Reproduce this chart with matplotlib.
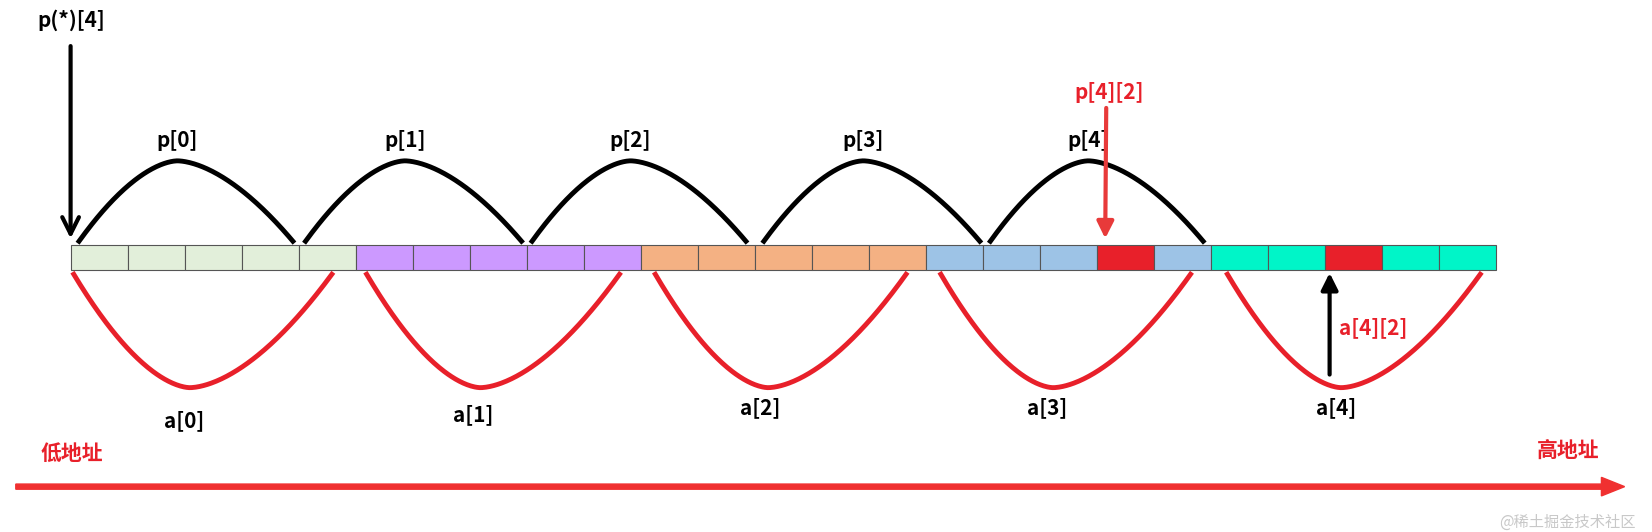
import numpy as np
import matplotlib.pyplot as plt
from matplotlib.patches import Rectangle, FancyArrow

plt.rcParams['font.family'] = ['Noto Sans CJK SC', 'DejaVu Sans']

group_colors = ['#E2EFDA', '#CC99FF', '#F4B183', '#9DC3E6', '#00F5C8']
red_cells = [18, 22]
p_labels = ['p[0]', 'p[1]', 'p[2]', 'p[3]', 'p[4]']
a_labels = ['a[0]', 'a[1]', 'a[2]', 'a[3]', 'a[4]']
p_arc_start = [75, 290, 505, 725, 940]
p_arc_end = [278, 495, 708, 930, 1142]
a_arc_start = [70, 348, 622, 893, 1165]
a_arc_end = [315, 588, 860, 1130, 1405]
a_label_x = [175, 449, 722, 994, 1268]
a_label_y = [408, 402, 395, 395, 395]

W, H = 1568, 516
fig = plt.figure(figsize=(16.52, 5.32), dpi=100)
ax = fig.add_axes([0, 0, 1, 1])
ax.set_xlim(0, W); ax.set_ylim(H, 0); ax.axis('off')

x0, cw, y0, ch = 67, (1420 - 67) / 25, 238, 24
for i in range(25):
    c = '#E8202A' if i in red_cells else group_colors[i // 5]
    ax.add_patch(Rectangle((x0 + i * cw, y0), cw, ch, facecolor=c, edgecolor='#555555', lw=0.8))

t = np.linspace(0, 1, 200)

def bump(t, peak):
    # asymmetric rounded-V shape
    u = np.where(t < peak, t / peak, (1 - t) / (1 - peak))
    return 1 - (1 - u) ** 1.7

for k in range(5):
    xs = p_arc_start[k] + (p_arc_end[k] - p_arc_start[k]) * t
    ys = 234 - 78 * bump(t, 0.46)
    ax.plot(xs, ys, color='black', lw=3.5)
    ax.text((p_arc_start[k] + p_arc_end[k]) / 2 - 8, 136, p_labels[k], ha='center', va='center',
            fontsize=15, fontweight='bold')
    xs = a_arc_start[k] + (a_arc_end[k] - a_arc_start[k]) * t
    ys = 266 + 110 * bump(t, 0.45)
    ax.plot(xs, ys, color='#E8202A', lw=3.5)
    ax.text(a_label_x[k], a_label_y[k], a_labels[k], ha='center', va='center',
            fontsize=15, fontweight='bold')

ax.text(68, 20, 'p(*)[4]', ha='center', va='center', fontsize=15, fontweight='bold')
ax.annotate('', xy=(67, 234), xytext=(67, 42),
            arrowprops=dict(arrowstyle='->', color='black', lw=3, mutation_scale=30))
ax.text(1053, 90, 'p[4][2]', ha='center', va='center', fontsize=15, fontweight='bold', color='#E8202A')
ax.annotate('', xy=(1049, 234), xytext=(1050, 102),
            arrowprops=dict(arrowstyle='-|>', color='#E83A3A', lw=3, mutation_scale=25))
ax.annotate('', xy=(1262, 262), xytext=(1262, 366),
            arrowprops=dict(arrowstyle='-|>', color='black', lw=3, mutation_scale=25))
ax.text(1303, 318, 'a[4][2]', ha='center', va='center', fontsize=15, fontweight='bold', color='#E8202A')

ax.add_patch(FancyArrow(15, 472, 1505, 0, width=5, head_width=18, head_length=22,
                        color='#F03030', length_includes_head=False))
ax.text(68, 440, '低地址', ha='center', va='center', fontsize=15, fontweight='bold', color='#E8202A')
ax.text(1488, 437, '高地址', ha='center', va='center', fontsize=15, fontweight='bold', color='#E8202A')
ax.text(1488, 515, '@稀土掘金技术社区', ha='center', va='bottom', fontsize=11, color='#C8C8C8')

fig.savefig('out.png', dpi=100)
